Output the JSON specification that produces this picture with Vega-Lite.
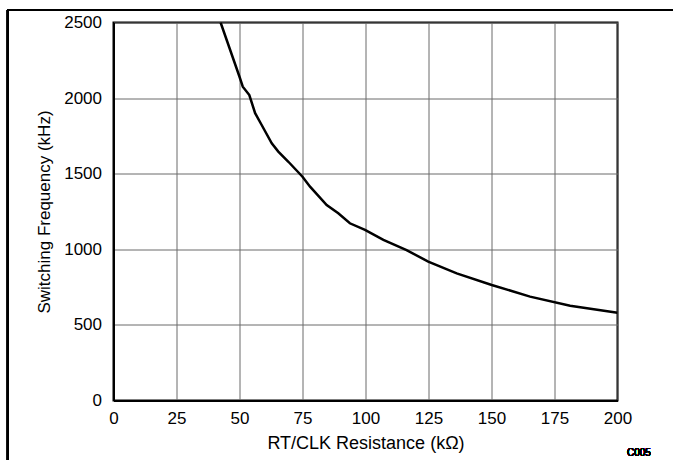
{
  "$schema": "https://vega.github.io/schema/vega-lite/v6.json",
  "width": 504,
  "height": 378,
  "autosize": "none",
  "padding": {"left": 113.5, "top": 22.5, "right": 55, "bottom": 59},
  "background": "white",
  "config": {
    "font": "Liberation Sans",
    "view": {"stroke": "black", "strokeWidth": 2},
    "axis": {
      "labelFont": "Liberation Sans",
      "titleFont": "Liberation Sans",
      "labelFontSize": 17,
      "titleFontSize": 17,
      "labelColor": "black",
      "titleColor": "black",
      "titleFontWeight": "normal",
      "ticks": false,
      "domainColor": "black",
      "domainWidth": 2,
      "gridColor": "#6a6a6a",
      "gridWidth": 1,
      "gridOpacity": 1
    }
  },
  "data": {
    "values": [
      {"r": 42.5, "f": 2500},
      {"r": 50, "f": 2141},
      {"r": 51.3, "f": 2075},
      {"r": 53.9, "f": 2020},
      {"r": 56.2, "f": 1900},
      {"r": 58.8, "f": 1822},
      {"r": 62.8, "f": 1701},
      {"r": 65.4, "f": 1646},
      {"r": 69.4, "f": 1579},
      {"r": 75, "f": 1480},
      {"r": 78, "f": 1414},
      {"r": 84.6, "f": 1293},
      {"r": 89.2, "f": 1238},
      {"r": 93.8, "f": 1172},
      {"r": 99.8, "f": 1128},
      {"r": 107.1, "f": 1062},
      {"r": 116.3, "f": 995},
      {"r": 124.9, "f": 918},
      {"r": 136.2, "f": 841},
      {"r": 150.1, "f": 764},
      {"r": 165.3, "f": 687},
      {"r": 181.2, "f": 627},
      {"r": 200, "f": 580}
    ]
  },
  "layer": [
    {
      "mark": {"type": "line", "color": "black", "strokeWidth": 2.5, "clip": true},
      "encoding": {
        "x": {
          "field": "r", "type": "quantitative",
          "scale": {"domain": [0, 200], "nice": false, "zero": false},
          "axis": {"values": [0, 25, 50, 75, 100, 125, 150, 175, 200], "format": "d", "title": "RT/CLK Resistance (kΩ)", "titleFontSize": 18, "labelPadding": 10, "titlePadding": 8, "labelFlush": false}
        },
        "y": {
          "field": "f", "type": "quantitative",
          "scale": {"domain": [0, 2500], "nice": false},
          "axis": {"values": [0, 500, 1000, 1500, 2000, 2500], "format": "d", "title": "Switching Frequency (kHz)", "labelPadding": 12, "titlePadding": 10, "labelFlush": false}
        }
      }
    },
    {
      "mark": {"type": "rule", "color": "black", "strokeWidth": 1.5, "clip": false},
      "encoding": {
        "x": {"datum": -42},
        "x2": {"datum": 222},
        "y": {"datum": 2583}
      }
    },
    {
      "mark": {"type": "rule", "color": "black", "strokeWidth": 1.5, "clip": false},
      "encoding": {
        "x": {"datum": -42},
        "y": {"datum": 2583},
        "y2": {"datum": -400}
      }
    },
    {
      "mark": {"type": "text", "text": "C005", "fontSize": 10, "font": "Liberation Sans", "color": "black", "align": "center", "baseline": "middle", "clip": false},
      "encoding": {
        "x": {"datum": 208.5},
        "y": {"datum": -344}
      }
    }
  ]
}
